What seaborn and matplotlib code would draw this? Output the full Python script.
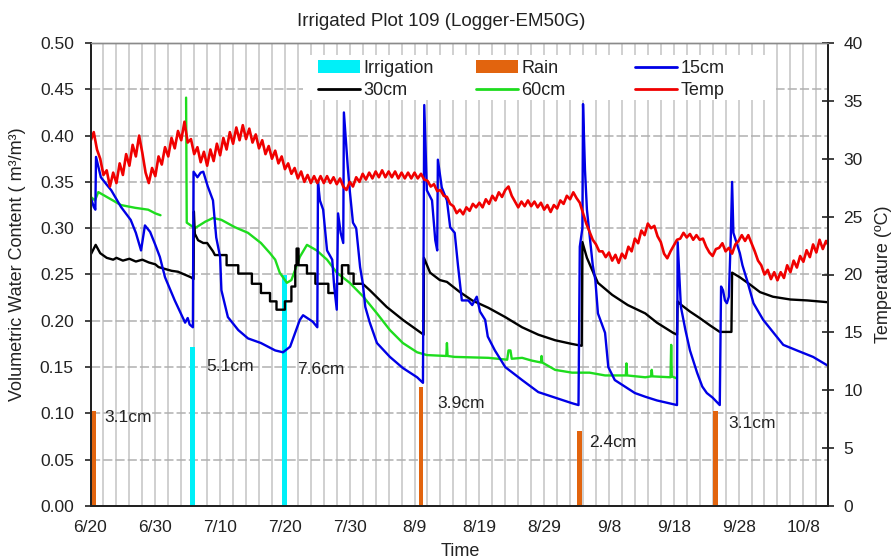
import numpy as np
import matplotlib
matplotlib.use("Agg")
import matplotlib.pyplot as plt
import seaborn as sns
from matplotlib.patches import Patch, Rectangle
from matplotlib.lines import Line2D
from matplotlib.ticker import MultipleLocator, FormatStrFormatter

sns.set_style("white")
plt.rcParams['font.family'] = ['Liberation Sans', 'DejaVu Sans']

# ---------------- data (day 0 = 6/20) ----------------
tick_labels = ['6/20', '6/30', '7/10', '7/20', '7/30', '8/9', '8/19',
               '8/29', '9/8', '9/18', '9/28', '10/8']

irrigation_day = [15.8, 29.9]
irrigation_depth = [0.172, 0.250]
irrigation_text = ['5.1cm', '7.6cm']

rain_day = [0.4, 51.0, 75.5, 96.5]
rain_depth = [0.103, 0.129, 0.081, 0.103]
rain_text = ['3.1cm', '3.9cm', '2.4cm', '3.1cm']

vwc15_day = [0, 0.5, 0.75, 0.85, 1.6, 2.5, 3.2, 4.7, 6.2, 7.0, 7.8, 8.4, 9.2, 10.0,
             10.7, 11.5, 13.0, 14.0, 14.6, 15.0, 15.3, 15.8, 15.9, 16.5, 17.0, 17.4,
             18.1, 18.9, 19.4, 20.0, 20.2, 21.2, 22.8, 24.3, 26.3, 28.5, 29.7, 30.8,
             32.3, 32.8, 34.3, 35.0, 35.1, 35.4, 35.9, 36.5, 37.3, 37.6, 38.0, 38.2,
             38.6, 39.0, 39.1, 39.7, 40.0, 40.5, 41.0, 41.6, 42.0, 42.4, 43.1, 44.2,
             46.2, 48.2, 50.4, 51.3, 51.5, 51.9, 52.7, 53.2, 53.5, 53.6, 54.2, 55.0,
             55.5, 56.2, 56.7, 57.3, 58.3, 58.9, 59.6, 60.1, 60.9, 61.3, 62.4, 64.0,
             66.6, 69.1, 71.7, 74.3, 75.3, 75.5, 75.9, 76.0, 76.3, 76.6, 77.1, 77.5,
             77.9, 78.3, 79.4, 79.9, 80.9, 82.0, 84.0, 85.6, 87.4, 90.5, 90.6, 91.1,
             91.8, 92.5, 93.6, 94.4, 95.1, 96.0, 97.1, 97.3, 97.6, 97.9, 98.2, 98.5,
             98.8, 99.0, 99.2, 99.7, 100.2, 100.6, 101.3, 102.3, 103.8, 105.4, 106.9,
             109.0, 111.5, 113.9]
vwc15 = [0.334, 0.323, 0.320, 0.377, 0.355, 0.347, 0.341, 0.323, 0.309, 0.295, 0.276,
         0.303, 0.296, 0.282, 0.269, 0.247, 0.222, 0.207, 0.198, 0.203, 0.196, 0.193,
         0.361, 0.355, 0.360, 0.361, 0.345, 0.330, 0.290, 0.269, 0.233, 0.204, 0.190,
         0.181, 0.176, 0.168, 0.166, 0.172, 0.201, 0.206, 0.199, 0.193, 0.350, 0.330,
         0.320, 0.276, 0.266, 0.237, 0.212, 0.316, 0.295, 0.284, 0.425, 0.366, 0.341,
         0.306, 0.300, 0.258, 0.241, 0.215, 0.198, 0.176, 0.161, 0.149, 0.139, 0.133,
         0.433, 0.341, 0.330, 0.287, 0.276, 0.374, 0.344, 0.330, 0.301, 0.295, 0.260,
         0.222, 0.222, 0.217, 0.226, 0.210, 0.201, 0.183, 0.168, 0.150, 0.136, 0.123,
         0.117, 0.111, 0.109, 0.280, 0.300, 0.434, 0.363, 0.320, 0.287, 0.260, 0.244,
         0.208, 0.187, 0.150, 0.136, 0.131, 0.122, 0.118, 0.114, 0.109, 0.285, 0.215,
         0.190, 0.168, 0.144, 0.129, 0.122, 0.117, 0.109, 0.237, 0.233, 0.222, 0.219,
         0.226, 0.290, 0.350, 0.295, 0.284, 0.273, 0.260, 0.244, 0.219, 0.201, 0.187,
         0.174, 0.168, 0.161, 0.151]

vwc30_day = [0, 0.8, 1.5, 2.5, 3.5, 4.0, 5.0, 6.0, 7.0, 8.0, 9.0, 10.0, 10.5, 11.5,
             12.5, 13.5, 14.5, 15.5, 15.9, 15.95, 16.1, 16.6, 17.4, 18.0, 18.4, 18.9,
             19.2, 21.0, 21.0, 22.8, 22.8, 24.9, 24.9, 26.3, 26.3, 27.7, 27.7, 28.7,
             28.7, 30.0, 30.0, 31.0, 31.0, 31.6, 31.6, 31.8, 31.8, 32.1, 32.1, 33.4,
             33.4, 34.7, 34.7, 36.7, 36.7, 38.0, 38.0, 38.8, 38.8, 39.8, 39.8, 40.6,
             40.6, 42.0, 43.1, 45.7, 48.2, 50.4, 51.4, 51.45, 52.4, 53.9, 55.0, 57.0,
             58.9, 61.4, 64.0, 66.6, 69.1, 71.7, 74.3, 75.8, 75.9, 76.6, 77.4, 78.3,
             80.5, 82.9, 85.6, 87.4, 89.9, 90.5, 90.6, 91.0, 92.5, 94.0, 95.6, 97.1,
             98.9, 99.0, 100.2, 101.8, 103.3, 105.3, 108.0, 110.6, 113.9]
vwc30 = [0.271, 0.282, 0.273, 0.268, 0.266, 0.268, 0.265, 0.267, 0.264, 0.266, 0.263,
         0.261, 0.258, 0.256, 0.254, 0.253, 0.250, 0.247, 0.245, 0.318, 0.294, 0.287,
         0.284, 0.284, 0.280, 0.275, 0.271, 0.271, 0.260, 0.260, 0.251, 0.251, 0.240,
         0.240, 0.230, 0.230, 0.221, 0.221, 0.212, 0.212, 0.221, 0.221, 0.237, 0.237,
         0.260, 0.260, 0.278, 0.278, 0.260, 0.260, 0.251, 0.251, 0.240, 0.240, 0.230,
         0.230, 0.240, 0.240, 0.260, 0.260, 0.251, 0.251, 0.240, 0.240, 0.233, 0.215,
         0.201, 0.190, 0.185, 0.268, 0.252, 0.244, 0.242, 0.231, 0.222, 0.214, 0.204,
         0.193, 0.185, 0.179, 0.175, 0.173, 0.285, 0.268, 0.255, 0.241, 0.228, 0.217,
         0.208, 0.198, 0.187, 0.185, 0.221, 0.218, 0.210, 0.203, 0.195, 0.188, 0.188,
         0.252, 0.247, 0.239, 0.231, 0.226, 0.223, 0.222, 0.220]

vwc60a_day = [0, 0.7, 1.2, 2.7, 4.7, 6.9, 8.9, 10.0, 10.8]
vwc60a = [0.334, 0.330, 0.339, 0.333, 0.325, 0.322, 0.320, 0.316, 0.314]

vwc60b_day = [14.75, 14.85, 16.1, 17.7, 18.9, 20.2, 22.3, 24.3, 26.3, 27.7, 28.5, 29.2,
              30.3, 31.0, 32.3, 33.4, 34.9, 36.5, 38.0, 40.0, 42.1, 44.2, 46.2, 48.2,
              50.4, 51.9, 54.9, 55.0, 55.1, 56.2, 61.4, 64.3, 64.5, 64.8, 65.0, 66.6,
              68.1, 69.5, 69.6, 69.7, 71.7, 74.3, 77.0, 79.4, 82.6, 82.7, 82.8, 85.6,
              86.5, 86.6, 86.7, 89.5, 89.6, 89.7, 90.4]
vwc60b = [0.441, 0.306, 0.300, 0.307, 0.311, 0.309, 0.301, 0.295, 0.284, 0.273, 0.266,
          0.252, 0.241, 0.244, 0.269, 0.282, 0.276, 0.266, 0.252, 0.241, 0.226, 0.208,
          0.190, 0.176, 0.166, 0.163, 0.162, 0.176, 0.162, 0.161, 0.160, 0.158, 0.168,
          0.168, 0.159, 0.160, 0.157, 0.155, 0.162, 0.155, 0.147, 0.144, 0.144, 0.141,
          0.141, 0.154, 0.141, 0.139, 0.140, 0.147, 0.140, 0.139, 0.174, 0.140, 0.138]

# air temperature, read every half day from day 0
temp_c = [31.5, 32.3, 30.8, 30.0, 28.6, 29.0, 27.6, 28.8, 27.9, 29.6,
          28.6, 30.4, 29.4, 31.2, 30.2, 32.0, 30.5, 28.8, 27.9, 29.2,
          28.5, 30.2, 29.5, 31.0, 30.2, 31.8, 30.9, 32.4, 31.6, 33.2,
          31.4, 31.7, 30.4, 31.0, 29.7, 30.6, 29.4, 30.8, 29.8, 31.3,
          30.3, 31.8, 30.8, 32.3, 31.3, 32.7, 31.6, 32.9, 31.7, 32.6,
          31.4, 32.1, 30.9, 31.6, 30.4, 31.1, 30.0, 30.7, 29.6, 30.2,
          29.1, 29.6, 28.7, 29.2, 28.3, 28.9, 28.0, 28.6, 27.9, 28.5,
          27.9, 28.5, 27.9, 28.5, 27.9, 28.4, 27.8, 28.3, 27.6, 27.3,
          28.0, 27.6, 28.4, 28.0, 28.7, 28.2, 28.8, 28.3, 28.9, 28.4,
          29.0, 28.4, 28.9, 28.4, 28.9, 28.3, 28.8, 28.3, 28.8, 28.3,
          28.8, 28.3, 28.7, 28.2, 28.1, 27.6, 27.8, 27.2, 27.3, 26.8,
          26.7, 26.1, 25.9, 25.3, 25.6, 25.2, 25.8, 25.5, 26.1, 25.8,
          26.2, 25.8, 26.5, 26.1, 26.8, 26.4, 27.1, 26.7, 27.3, 27.6,
          26.8, 26.3, 25.8, 26.3, 25.9, 26.4, 25.9, 26.3, 25.8, 26.2,
          25.6, 26.0, 25.4, 26.0, 25.7, 26.4, 26.1, 26.8, 26.5, 27.1,
          26.6, 26.2, 25.3, 24.4, 23.7, 23.0, 22.6, 22.0, 22.0, 21.5,
          21.9, 21.2, 21.7, 21.0, 21.8, 21.4, 22.4, 22.0, 23.1, 22.7,
          23.8, 23.4, 24.4, 24.0, 24.2, 23.3, 22.8, 21.8, 21.4, 22.0,
          22.5, 23.0, 23.1, 23.6, 23.2, 23.5, 23.0, 23.4, 23.0, 23.1,
          22.4, 21.9, 21.6, 22.2, 22.3, 22.7, 22.0, 22.3, 21.8, 22.6,
          22.9, 23.4, 22.9, 23.4, 22.7, 22.0, 21.2, 20.8, 20.0, 20.4,
          19.6, 20.2, 19.5, 20.2, 19.7, 20.8, 20.2, 21.2, 20.6, 21.6,
          21.1, 22.1, 21.5, 22.6, 21.9, 23.0, 22.2, 22.9, 22.4]
temp_day = np.arange(len(temp_c)) * 0.5

# ---------------- styling ----------------
C_IRR = '#00F0F8'
C_RAIN = '#E2640E'
C_15 = '#0000E6'
C_30 = '#000000'
C_60 = '#1EDC1E'
C_T = '#F00000'
LW = 1.7
TXT = '#222222'

W, H = 892, 559
fig = plt.figure(figsize=(W / 100, H / 100), dpi=100)
x0, x1, y0, y1 = 90.5, 828, 43, 506
ax = fig.add_axes([x0 / W, 1 - y1 / H, (x1 - x0) / W, (y1 - y0) / H])
ax2 = ax.twinx()

# bars
ax.bar(irrigation_day, irrigation_depth, width=0.75, color=C_IRR, linewidth=0, zorder=1.5)
ax.bar(rain_day, rain_depth, width=0.75, color=C_RAIN, linewidth=0, zorder=1.5)

# moisture lines
kw = dict(estimator=None, sort=False, linewidth=LW, ax=ax, legend=False)
sns.lineplot(x=vwc60a_day, y=vwc60a, color=C_60, **kw)
sns.lineplot(x=vwc60b_day, y=vwc60b, color=C_60, **kw)
sns.lineplot(x=vwc30_day, y=vwc30, color=C_30, **kw)
sns.lineplot(x=vwc15_day, y=vwc15, color=C_15, **kw)
# temperature
sns.lineplot(x=temp_day, y=temp_c, color=C_T, estimator=None, sort=False,
             linewidth=LW + 0.2, ax=ax2, legend=False)

# annotations
irr_lbl_pos = [(17.8, 0.151), (31.9, 0.147)]
rain_lbl_pos = [(2.2, 0.096), (53.5, 0.111), (76.9, 0.069), (98.4, 0.089)]
for (lx, ly), s in zip(irr_lbl_pos + rain_lbl_pos, irrigation_text + rain_text):
    ax.text(lx, ly, s, ha='left', va='center', fontsize=12.5, color=TXT, zorder=4)

# axes limits & ticks
ax.set_xlim(0, 113.8)
ax.set_ylim(0, 0.5)
ax2.set_ylim(0, 40)
ax.set_xticks(np.arange(0, 111, 10))
ax.set_xticklabels(tick_labels)
ax.xaxis.set_minor_locator(MultipleLocator(2))
ax.yaxis.set_major_locator(MultipleLocator(0.05))
ax.yaxis.set_major_formatter(FormatStrFormatter('%.2f'))
ax2.yaxis.set_major_locator(MultipleLocator(5))

ax.set_xlabel('')
ax.set_ylabel('')
ax2.set_ylabel('')

ax.tick_params(axis='x', which='both', direction='out', length=4.5, width=1.2,
               color=TXT, labelsize=12.5, pad=5.5, labelcolor=TXT)
ax.tick_params(axis='y', which='major', direction='out', length=4, width=1.2,
               color=TXT, labelsize=12.5, pad=8, labelcolor=TXT)
ax2.tick_params(axis='y', which='major', direction='inout', length=8, width=1.2,
                color=TXT, labelsize=12.5, pad=7, labelcolor=TXT)

# grid
ax.set_axisbelow(True)
ax.grid(axis='x', which='both', color='#CDCDCD', linewidth=1.3, linestyle='-')
ax.grid(axis='y', which='major', color='#B0B0B0', linewidth=1.1, linestyle=(0, (6, 2)))
ax2.grid(False)

# spines
for a in (ax, ax2):
    a.spines['top'].set_color('#8A8A8A')
    a.spines['top'].set_linewidth(1.0)
    for s in ('left', 'bottom', 'right'):
        a.spines[s].set_color(TXT)
        a.spines[s].set_linewidth(1.4)

# texts
fig.text(441 / W, 1 - 22 / H, 'Irrigated Plot 109 (Logger-EM50G)', ha='center',
         va='center', fontsize=13.5, color=TXT)
fig.text(460 / W, 1 - 551 / H, 'Time', ha='center', va='center', fontsize=13,
         color=TXT)
fig.text(18 / W, 1 - 264 / H, 'Volumetric Water Content ( m³/m³)', rotation=90,
         ha='center', va='center', fontsize=13, color=TXT)
fig.text(883 / W, 1 - 274 / H, 'Temperature (ºC)', rotation=90, ha='center',
         va='center', fontsize=13, color=TXT)

# legend background and legends
fig.add_artist(Rectangle((303 / W, 1 - 100 / H), (776 - 303) / W, 45 / H,
                         transform=fig.transFigure, facecolor='white',
                         edgecolor='none', zorder=1))
cols = [
    ([Patch(facecolor=C_IRR, edgecolor='none'), Line2D([], [], color=C_30, lw=2)],
     ['Irrigation', '30cm'], 318),
    ([Patch(facecolor=C_RAIN, edgecolor='none'), Line2D([], [], color=C_60, lw=2)],
     ['Rain', '60cm'], 476),
    ([Line2D([], [], color=C_15, lw=2), Line2D([], [], color=C_T, lw=2)],
     ['15cm', 'Temp'], 635),
]
for handles, labels, lx in cols:
    leg = fig.legend(handles, labels, loc='upper left',
                     bbox_to_anchor=(lx / W, 1 - 60 / H),
                     bbox_transform=fig.transFigure, frameon=False, borderpad=0,
                     borderaxespad=0, handlelength=2.33, handleheight=0.7,
                     handletextpad=0.17, labelspacing=0.28, fontsize=13)
    leg.set_zorder(5)
    for t in leg.get_texts():
        t.set_color(TXT)

fig.savefig('out.png', dpi=100)
